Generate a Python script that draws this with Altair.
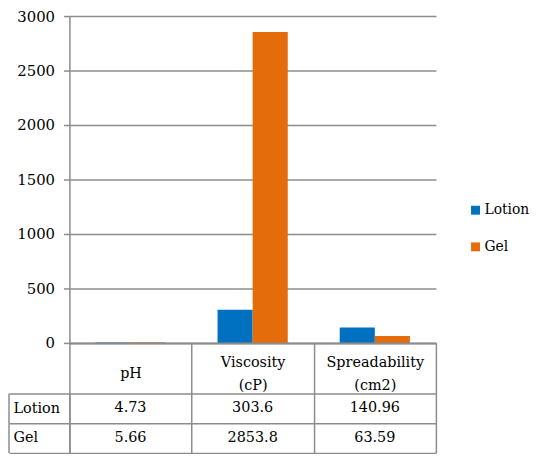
import altair as alt
import pandas as pd

categories = ["pH", "Viscosity (cP)", "Spreadability (cm2)"]
series = ["Lotion", "Gel"]
lotion_values = [4.73, 303.6, 140.96]
gel_values = [5.66, 2853.8, 63.59]
lotion_text = ["4.73", "303.6", "140.96"]
gel_text = ["5.66", "2853.8", "63.59"]
y_ticks = [0, 500, 1000, 1500, 2000, 2500, 3000]
colors = ["#0070C0", "#E46C0A"]

FONT = "DejaVu Serif"
GRAY = "#8c8c8c"
LW = 1.5
FS = 14.5

rows = []
for s, vals, txts in [("Lotion", lotion_values, lotion_text), ("Gel", gel_values, gel_text)]:
    for c, v, t in zip(categories, vals, txts):
        rows.append({"category": c, "series": s, "value": v, "text": t})
df = pd.DataFrame(rows)

x_scale = alt.Scale(domain=categories, paddingInner=0, paddingOuter=0)

bars = alt.Chart(df).mark_bar().encode(
    x=alt.X("category:N", sort=categories, scale=x_scale,
            axis=alt.Axis(title=None, labelExpr="split(datum.label, ' ')", tickBand="extent",
                          tickSize=51, tickColor=GRAY, tickWidth=LW, domainColor=GRAY, domainWidth=2,
                          labelPadding=-20, zindex=1,
                          labelBaseline={"condition": {"test": "datum.label == 'pH'", "value": "middle"},
                                         "value": "line-bottom"},
                          labelFont=FONT, labelFontSize=FS,
                          labelColor="#000000", labelLineHeight=23, labelAngle=0, grid=False)),
    xOffset=alt.XOffset("series:N", sort=series,
                        scale=alt.Scale(domain=series, paddingInner=0, paddingOuter=0.74)),
    y=alt.Y("value:Q", scale=alt.Scale(domain=[0, 3000]),
            axis=alt.Axis(values=y_ticks, format="d", title=None, grid=True, gridColor=GRAY, gridWidth=LW,
                          tickColor=GRAY, tickWidth=LW, tickSize=6, domainColor=GRAY, domainWidth=LW,
                          labelFont=FONT, labelFontSize=15, labelColor="#000000", labelPadding=9)),
    color=alt.Color("series:N", sort=series, scale=alt.Scale(domain=series, range=colors),
                    legend=alt.Legend(title=None, orient="none", legendX=403, legendY=189,
                                      symbolType="square", symbolSize=81, symbolStrokeWidth=0,
                                      labelFont=FONT, labelFontSize=14, labelColor="#000000",
                                      rowPadding=23, labelOffset=2, padding=0)),
).properties(width=370, height=330)

tbase = alt.Chart(df).encode(
    x=alt.X("category:N", sort=categories, scale=x_scale,
            axis=alt.Axis(title=None, labels=False, ticks=False, domain=False, grid=True,
                          tickBand="extent", gridColor=GRAY, gridWidth=LW, orient="top")),
    y=alt.Y("series:N", sort=series, scale=alt.Scale(domain=series, paddingInner=0, paddingOuter=0),
            axis=alt.Axis(title=None, tickBand="extent", tickSize=61, tickColor=GRAY, tickWidth=LW,
                          domainColor=GRAY, domainWidth=LW, labelAlign="left", labelPadding=-4,
                          labelBaseline="middle", labelFont=FONT, labelFontSize=FS,
                          labelColor="#000000", grid=True, gridColor=GRAY, gridWidth=LW)),
)
ttext = tbase.mark_text(font=FONT, fontSize=FS, color="#000000").encode(text="text:N")
border = alt.Chart(pd.DataFrame({"k": [0]})).mark_rule(color=GRAY, strokeWidth=LW).encode(
    x=alt.value(-61), y=alt.value(0), y2=alt.value(60))
table = alt.layer(ttext, border).properties(width=370, height=60)

chart = alt.vconcat(bars, table, spacing=51, bounds="flush").resolve_scale(
    x="independent", y="independent").configure_view(
    stroke=None).properties(padding={"left": 0, "top": -1, "right": 0, "bottom": 0})

chart.save("out.html", embed_options={"renderer": "svg", "actions": False})
